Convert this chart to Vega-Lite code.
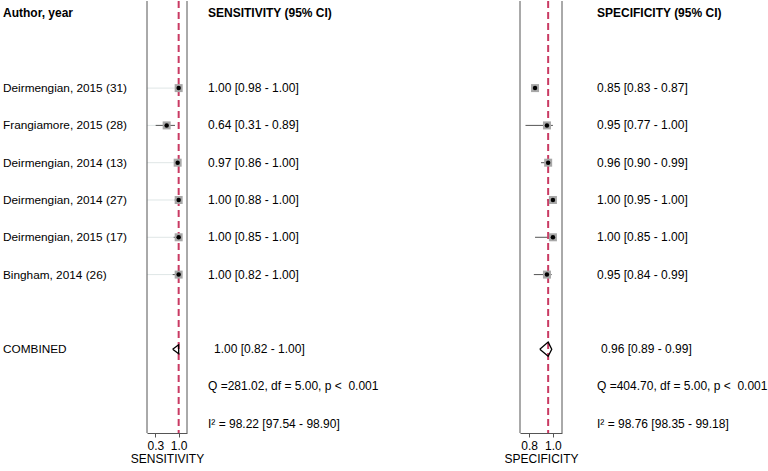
{
  "$schema": "https://vega.github.io/schema/vega-lite/v6.json",
  "padding": 0,
  "spacing": 0,
  "bounds": "flush",
  "config": {
    "view": {"stroke": null},
    "font": "Liberation Sans",
    "text": {"font": "Liberation Sans", "fontSize": 12, "color": "#000"},
    "axis": {"grid": false, "domainColor": "#555", "domainWidth": 1, "tickColor": "#555", "tickSize": 4, "labelFontSize": 12, "labelColor": "#000", "labelPadding": 3, "titleFontSize": 12, "titleFontWeight": "normal", "titleColor": "#000", "titlePadding": 2, "labelFont": "Liberation Sans", "titleFont": "Liberation Sans"}
  },
  "datasets": {
    "rows": [
      {"row": 0, "label": "Author, year", "sens_text": "SENSITIVITY (95% CI)", "spec_text": "SPECIFICITY (95% CI)"},
      {"row": 2, "label": "Deirmengian, 2015 (31)", "sens_text": "1.00 [0.98 - 1.00]", "spec_text": "0.85 [0.83 - 0.87]"},
      {"row": 3, "label": "Frangiamore, 2015 (28)", "sens_text": "0.64 [0.31 - 0.89]", "spec_text": "0.95 [0.77 - 1.00]"},
      {"row": 4, "label": "Deirmengian, 2014 (13)", "sens_text": "0.97 [0.86 - 1.00]", "spec_text": "0.96 [0.90 - 0.99]"},
      {"row": 5, "label": "Deirmengian, 2014 (27)", "sens_text": "1.00 [0.88 - 1.00]", "spec_text": "1.00 [0.95 - 1.00]"},
      {"row": 6, "label": "Deirmengian, 2015 (17)", "sens_text": "1.00 [0.85 - 1.00]", "spec_text": "1.00 [0.85 - 1.00]"},
      {"row": 7, "label": "Bingham, 2014 (26)", "sens_text": "1.00 [0.82 - 1.00]", "spec_text": "0.95 [0.84 - 0.99]"},
      {"row": 9, "label": "COMBINED", "sens_text": "1.00 [0.82 - 1.00]", "spec_text": "0.96 [0.89 - 0.99]"},
      {"row": 10, "label": "", "sens_text": "Q =281.02, df = 5.00, p < \u00a00.001", "spec_text": "Q =404.70, df = 5.00, p < \u00a00.001"},
      {"row": 11, "label": "", "sens_text": "I² = 98.22 [97.54 - 98.90]", "spec_text": "I² = 98.76 [98.35 - 99.18]"}
    ],
    "studies": [
      {"row": 2, "sens": 1.00, "sens_lo": 0.98, "sens_hi": 1.00, "spec": 0.85, "spec_lo": 0.83, "spec_hi": 0.87},
      {"row": 3, "sens": 0.64, "sens_lo": 0.31, "sens_hi": 0.89, "spec": 0.95, "spec_lo": 0.77, "spec_hi": 1.00},
      {"row": 4, "sens": 0.97, "sens_lo": 0.86, "sens_hi": 1.00, "spec": 0.96, "spec_lo": 0.90, "spec_hi": 0.99},
      {"row": 5, "sens": 1.00, "sens_lo": 0.88, "sens_hi": 1.00, "spec": 1.00, "spec_lo": 0.95, "spec_hi": 1.00},
      {"row": 6, "sens": 1.00, "sens_lo": 0.85, "sens_hi": 1.00, "spec": 1.00, "spec_lo": 0.85, "spec_hi": 1.00},
      {"row": 7, "sens": 1.00, "sens_lo": 0.82, "sens_hi": 1.00, "spec": 0.95, "spec_lo": 0.84, "spec_hi": 0.99}
    ],
    "pooled": [{"sens": 1.00, "spec": 0.96}],
    "diamond": [
      {"measure": "sens", "vertex": 0, "value": 0.82, "row": 9},
      {"measure": "sens", "vertex": 1, "value": 1.00, "row": 8.88},
      {"measure": "sens", "vertex": 2, "value": 1.00, "row": 9},
      {"measure": "sens", "vertex": 3, "value": 1.00, "row": 9.12},
      {"measure": "sens", "vertex": 4, "value": 0.82, "row": 9},
      {"measure": "spec", "vertex": 0, "value": 0.89, "row": 9},
      {"measure": "spec", "vertex": 1, "value": 0.96, "row": 8.81},
      {"measure": "spec", "vertex": 2, "value": 0.99, "row": 9},
      {"measure": "spec", "vertex": 3, "value": 0.96, "row": 9.19},
      {"measure": "spec", "vertex": 4, "value": 0.89, "row": 9}
    ]
  },
  "hconcat": [
    {
      "width": 147,
      "height": 432,
      "data": {"name": "rows"},
      "layer": [
        {
          "transform": [{"filter": "datum.row == 0"}],
          "mark": {"type": "text", "align": "left", "baseline": "middle", "dx": 3, "fontWeight": "bold"},
          "encoding": {
            "x": {"datum": 0, "type": "quantitative", "scale": {"domain": [0, 1]}, "axis": null},
            "y": {"field": "row", "type": "quantitative", "scale": {"domain": [-0.335, 11.247], "reverse": true, "nice": false, "zero": false}, "axis": null},
            "text": {"field": "label"}
          }
        },
        {
          "transform": [{"filter": "datum.row > 0"}],
          "mark": {"type": "text", "align": "left", "baseline": "middle", "dx": 3, "fontSize": 11.8},
          "encoding": {
            "x": {"datum": 0, "type": "quantitative", "scale": {"domain": [0, 1]}, "axis": null},
            "y": {"field": "row", "type": "quantitative", "scale": {"domain": [-0.335, 11.247], "reverse": true, "nice": false, "zero": false}, "axis": null},
            "text": {"field": "label"}
          }
        }
      ]
    },
    {
      "width": 40,
      "height": 432,
      "layer": [
        {
          "data": {"name": "studies"},
          "mark": {"type": "rule", "color": "#dfe6e6", "strokeWidth": 1},
          "encoding": {
            "x": {"field": "sens", "type": "quantitative", "scale": {"domain": [0.05, 1.25], "nice": false, "zero": false}, "axis": {"values": [0.3, 1.0], "format": ".1f", "title": "SENSITIVITY"}},
            "x2": {"datum": 0.05},
            "y": {"field": "row", "type": "quantitative", "scale": {"domain": [-0.335, 11.247], "reverse": true, "nice": false, "zero": false}, "axis": null}
          }
        },
        {
          "data": {"name": "studies"},
          "mark": {"type": "rule", "color": "#555", "strokeWidth": 1},
          "encoding": {
            "x": {"field": "sens_lo", "type": "quantitative", "scale": {"domain": [0.05, 1.25], "nice": false, "zero": false}, "axis": {"values": [0.3, 1.0], "format": ".1f", "title": "SENSITIVITY"}},
            "x2": {"field": "sens_hi"},
            "y": {"field": "row", "type": "quantitative", "scale": {"domain": [-0.335, 11.247], "reverse": true, "nice": false, "zero": false}, "axis": null}
          }
        },
        {
          "data": {"name": "pooled"},
          "mark": {"type": "rule", "color": "#555", "strokeWidth": 1},
          "encoding": {"x": {"datum": 0.05, "type": "quantitative", "scale": {"domain": [0.05, 1.25], "nice": false, "zero": false}, "axis": {"values": [0.3, 1.0], "format": ".1f", "title": "SENSITIVITY"}}}
        },
        {
          "data": {"name": "pooled"},
          "mark": {"type": "rule", "color": "#555", "strokeWidth": 1},
          "encoding": {"x": {"datum": 1.25, "type": "quantitative", "scale": {"domain": [0.05, 1.25], "nice": false, "zero": false}, "axis": {"values": [0.3, 1.0], "format": ".1f", "title": "SENSITIVITY"}}}
        },
        {
          "data": {"name": "pooled"},
          "mark": {"type": "rule", "color": "#c93a63", "strokeWidth": 2, "strokeDash": [7, 4]},
          "encoding": {"x": {"field": "sens", "type": "quantitative", "scale": {"domain": [0.05, 1.25], "nice": false, "zero": false}, "axis": {"values": [0.3, 1.0], "format": ".1f", "title": "SENSITIVITY"}}}
        },
        {
          "data": {"name": "diamond"},
          "transform": [{"filter": "datum.measure == 'sens'"}],
          "mark": {"type": "line", "color": "#000", "strokeWidth": 1.3},
          "encoding": {
            "x": {"field": "value", "type": "quantitative", "scale": {"domain": [0.05, 1.25], "nice": false, "zero": false}, "axis": {"values": [0.3, 1.0], "format": ".1f", "title": "SENSITIVITY"}},
            "y": {"field": "row", "type": "quantitative", "scale": {"domain": [-0.335, 11.247], "reverse": true, "nice": false, "zero": false}, "axis": null},
            "order": {"field": "vertex", "type": "quantitative"}
          }
        },
        {
          "data": {"name": "studies"},
          "mark": {"type": "square", "color": "#a8a8a8", "opacity": 1, "size": 64},
          "encoding": {
            "x": {"field": "sens", "type": "quantitative", "scale": {"domain": [0.05, 1.25], "nice": false, "zero": false}, "axis": {"values": [0.3, 1.0], "format": ".1f", "title": "SENSITIVITY"}},
            "y": {"field": "row", "type": "quantitative", "scale": {"domain": [-0.335, 11.247], "reverse": true, "nice": false, "zero": false}, "axis": null}
          }
        },
        {
          "data": {"name": "studies"},
          "mark": {"type": "circle", "color": "#000", "opacity": 1, "size": 20},
          "encoding": {
            "x": {"field": "sens", "type": "quantitative", "scale": {"domain": [0.05, 1.25], "nice": false, "zero": false}, "axis": {"values": [0.3, 1.0], "format": ".1f", "title": "SENSITIVITY"}},
            "y": {"field": "row", "type": "quantitative", "scale": {"domain": [-0.335, 11.247], "reverse": true, "nice": false, "zero": false}, "axis": null}
          }
        }
      ]
    },
    {
      "width": 333,
      "height": 432,
      "data": {"name": "rows"},
      "layer": [
        {
          "transform": [{"filter": "datum.row == 0"}],
          "mark": {"type": "text", "align": "left", "baseline": "middle", "dx": 21, "fontWeight": "bold"},
          "encoding": {
            "x": {"datum": 0, "type": "quantitative", "scale": {"domain": [0, 1]}, "axis": null},
            "y": {"field": "row", "type": "quantitative", "scale": {"domain": [-0.335, 11.247], "reverse": true, "nice": false, "zero": false}, "axis": null},
            "text": {"field": "sens_text"}
          }
        },
        {
          "transform": [{"filter": "datum.row > 0 && datum.row != 9"}],
          "mark": {"type": "text", "align": "left", "baseline": "middle", "dx": 21},
          "encoding": {
            "x": {"datum": 0, "type": "quantitative", "scale": {"domain": [0, 1]}, "axis": null},
            "y": {"field": "row", "type": "quantitative", "scale": {"domain": [-0.335, 11.247], "reverse": true, "nice": false, "zero": false}, "axis": null},
            "text": {"field": "sens_text"}
          }
        },
        {
          "transform": [{"filter": "datum.row == 9"}],
          "mark": {"type": "text", "align": "left", "baseline": "middle", "dx": 27},
          "encoding": {
            "x": {"datum": 0, "type": "quantitative", "scale": {"domain": [0, 1]}, "axis": null},
            "y": {"field": "row", "type": "quantitative", "scale": {"domain": [-0.335, 11.247], "reverse": true, "nice": false, "zero": false}, "axis": null},
            "text": {"field": "sens_text"}
          }
        }
      ]
    },
    {
      "width": 42,
      "height": 432,
      "layer": [
        {
          "data": {"name": "studies"},
          "mark": {"type": "rule", "color": "#555", "strokeWidth": 1},
          "encoding": {
            "x": {"field": "spec_lo", "type": "quantitative", "scale": {"domain": [0.724, 1.076], "nice": false, "zero": false}, "axis": {"values": [0.8, 1.0], "format": ".1f", "title": "SPECIFICITY"}},
            "x2": {"field": "spec_hi"},
            "y": {"field": "row", "type": "quantitative", "scale": {"domain": [-0.335, 11.247], "reverse": true, "nice": false, "zero": false}, "axis": null}
          }
        },
        {
          "data": {"name": "pooled"},
          "mark": {"type": "rule", "color": "#555", "strokeWidth": 1},
          "encoding": {"x": {"datum": 0.724, "type": "quantitative", "scale": {"domain": [0.724, 1.076], "nice": false, "zero": false}, "axis": {"values": [0.8, 1.0], "format": ".1f", "title": "SPECIFICITY"}}}
        },
        {
          "data": {"name": "pooled"},
          "mark": {"type": "rule", "color": "#555", "strokeWidth": 1},
          "encoding": {"x": {"datum": 1.076, "type": "quantitative", "scale": {"domain": [0.724, 1.076], "nice": false, "zero": false}, "axis": {"values": [0.8, 1.0], "format": ".1f", "title": "SPECIFICITY"}}}
        },
        {
          "data": {"name": "pooled"},
          "mark": {"type": "rule", "color": "#c93a63", "strokeWidth": 2, "strokeDash": [7, 4]},
          "encoding": {"x": {"field": "spec", "type": "quantitative", "scale": {"domain": [0.724, 1.076], "nice": false, "zero": false}, "axis": {"values": [0.8, 1.0], "format": ".1f", "title": "SPECIFICITY"}}}
        },
        {
          "data": {"name": "diamond"},
          "transform": [{"filter": "datum.measure == 'spec'"}],
          "mark": {"type": "line", "color": "#000", "strokeWidth": 1.3},
          "encoding": {
            "x": {"field": "value", "type": "quantitative", "scale": {"domain": [0.724, 1.076], "nice": false, "zero": false}, "axis": {"values": [0.8, 1.0], "format": ".1f", "title": "SPECIFICITY"}},
            "y": {"field": "row", "type": "quantitative", "scale": {"domain": [-0.335, 11.247], "reverse": true, "nice": false, "zero": false}, "axis": null},
            "order": {"field": "vertex", "type": "quantitative"}
          }
        },
        {
          "data": {"name": "studies"},
          "mark": {"type": "square", "color": "#a8a8a8", "opacity": 1, "size": 64},
          "encoding": {
            "x": {"field": "spec", "type": "quantitative", "scale": {"domain": [0.724, 1.076], "nice": false, "zero": false}, "axis": {"values": [0.8, 1.0], "format": ".1f", "title": "SPECIFICITY"}},
            "y": {"field": "row", "type": "quantitative", "scale": {"domain": [-0.335, 11.247], "reverse": true, "nice": false, "zero": false}, "axis": null}
          }
        },
        {
          "data": {"name": "studies"},
          "mark": {"type": "circle", "color": "#000", "opacity": 1, "size": 20},
          "encoding": {
            "x": {"field": "spec", "type": "quantitative", "scale": {"domain": [0.724, 1.076], "nice": false, "zero": false}, "axis": {"values": [0.8, 1.0], "format": ".1f", "title": "SPECIFICITY"}},
            "y": {"field": "row", "type": "quantitative", "scale": {"domain": [-0.335, 11.247], "reverse": true, "nice": false, "zero": false}, "axis": null}
          }
        }
      ]
    },
    {
      "width": 206,
      "height": 432,
      "data": {"name": "rows"},
      "layer": [
        {
          "transform": [{"filter": "datum.row == 0"}],
          "mark": {"type": "text", "align": "left", "baseline": "middle", "dx": 35, "fontWeight": "bold"},
          "encoding": {
            "x": {"datum": 0, "type": "quantitative", "scale": {"domain": [0, 1]}, "axis": null},
            "y": {"field": "row", "type": "quantitative", "scale": {"domain": [-0.335, 11.247], "reverse": true, "nice": false, "zero": false}, "axis": null},
            "text": {"field": "spec_text"}
          }
        },
        {
          "transform": [{"filter": "datum.row > 0 && datum.row != 9"}],
          "mark": {"type": "text", "align": "left", "baseline": "middle", "dx": 35},
          "encoding": {
            "x": {"datum": 0, "type": "quantitative", "scale": {"domain": [0, 1]}, "axis": null},
            "y": {"field": "row", "type": "quantitative", "scale": {"domain": [-0.335, 11.247], "reverse": true, "nice": false, "zero": false}, "axis": null},
            "text": {"field": "spec_text"}
          }
        },
        {
          "transform": [{"filter": "datum.row == 9"}],
          "mark": {"type": "text", "align": "left", "baseline": "middle", "dx": 39},
          "encoding": {
            "x": {"datum": 0, "type": "quantitative", "scale": {"domain": [0, 1]}, "axis": null},
            "y": {"field": "row", "type": "quantitative", "scale": {"domain": [-0.335, 11.247], "reverse": true, "nice": false, "zero": false}, "axis": null},
            "text": {"field": "spec_text"}
          }
        }
      ]
    }
  ]
}
